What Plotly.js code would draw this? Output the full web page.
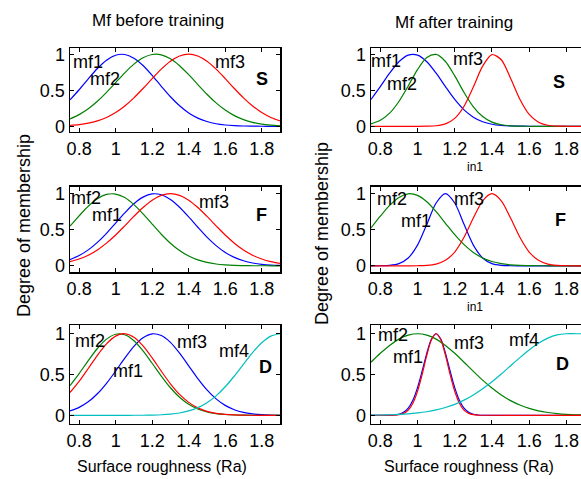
<!DOCTYPE html>
<html>
<head>
<meta charset="utf-8">
<script src="https://cdn.plot.ly/plotly-3.0.1.min.js"></script>
<style>
html,body{margin:0;padding:0;overflow:hidden;background:#fff;}
#chart{width:590px;height:479px;}
</style>
</head>
<body>
<div id="chart"></div>
<script>
// ---------- data ----------
const panelNames = ['S', 'F', 'D'];
const columnTitles = ['Mf before training', 'Mf after training'];
const xTickVals = [0.8, 1, 1.2, 1.4, 1.6, 1.8];
const xTickText = ['0.8', '1', '1.2', '1.4', '1.6', '1.8'];
const yTickVals = [0, 0.5, 1];
const yTickText = ['0', '0.5', '1'];

const xGrid = [0.75,0.80,0.85,0.90,0.95,1.00,1.05,1.10,1.15,1.20,1.25,1.30,1.35,1.40,1.45,1.50,1.55,1.60,1.65,1.70,1.75,1.80,1.85,1.90];
const xFine = [0.75,0.85,0.875,0.9,0.925,0.95,0.975,1.0,1.025,1.05,1.075,1.1,1.125,1.15,1.175,1.2,1.225,1.25,1.275,1.3,1.325,1.35,1.9];

// S, before training
const S_before_mf1 = [0.367,0.507,0.658,0.802,0.917,0.986,0.996,0.945,0.843,0.706,0.555,0.410,0.285,0.186,0.114,0.066,0.035,0.018,0.009,0.004,0.002,0.001,0,0];
const S_before_mf2 = [0.102,0.162,0.243,0.347,0.471,0.607,0.742,0.862,0.951,0.996,0.991,0.936,0.840,0.716,0.579,0.445,0.325,0.225,0.148,0.093,0.055,0.031,0.017,0.008];
const S_before_mf3 = [0.013,0.024,0.044,0.076,0.123,0.191,0.282,0.395,0.524,0.662,0.793,0.902,0.975,1,0.975,0.902,0.793,0.662,0.524,0.395,0.282,0.191,0.123,0.076];
// S, after training
const S_after_mf1 = [0.372,0.550,0.737,0.896,0.988,0.988,0.896,0.737,0.550,0.372,0.228,0.127,0.064,0.029,0.012,0.005,0.002,0.001,0,0,0,0,0,0];
const S_after_mf2 = [0.033,0.083,0.182,0.344,0.560,0.787,0.954,0.997,0.899,0.699,0.469,0.271,0.135,0.058,0.022,0.007,0.002,0.001,0,0,0,0,0,0];
const S_after_mf3 = [0,0,0,0,0,0,0.002,0.008,0.034,0.110,0.278,0.546,0.835,0.995,0.923,0.667,0.375,0.164,0.056,0.015,0.003,0.001,0,0];
// F, before training
const F_before_mf1 = [0.086,0.142,0.221,0.325,0.451,0.592,0.734,0.861,0.953,0.997,0.986,0.921,0.813,0.678,0.535,0.398,0.280,0.186,0.117,0.070,0.039,0.021,0.010,0.005];
const F_before_mf2 = [0.549,0.693,0.826,0.930,0.990,0.995,0.946,0.849,0.721,0.578,0.438,0.313,0.212,0.135,0.082,0.047,0.025,0.013,0.006,0.003,0.001,0.001,0,0];
const F_before_mf3 = [0.057,0.094,0.147,0.220,0.314,0.427,0.554,0.685,0.808,0.910,0.977,1,0.977,0.910,0.808,0.685,0.554,0.427,0.314,0.220,0.147,0.094,0.057,0.033];
// F, after training
const F_after_mf1 = [0,0.001,0.007,0.031,0.109,0.287,0.575,0.871,1,0.871,0.575,0.287,0.109,0.031,0.007,0.001,0,0,0,0,0,0,0,0];
const F_after_mf2 = [0.525,0.688,0.838,0.949,0.999,0.977,0.888,0.751,0.590,0.431,0.293,0.185,0.108,0.059,0.030,0.014,0.006,0.003,0.001,0,0,0,0,0];
const F_after_mf3 = [0,0,0,0,0,0.001,0.006,0.024,0.076,0.191,0.395,0.662,0.902,1,0.902,0.662,0.395,0.191,0.076,0.024,0.006,0.001,0,0];
// D, before training
const D_before_mf1 = [0.053,0.098,0.166,0.264,0.392,0.543,0.701,0.846,0.951,0.999,0.978,0.894,0.762,0.607,0.450,0.312,0.202,0.122,0.069,0.036,0.018,0.008,0.003,0.001];
const D_before_mf2 = [0.364,0.512,0.670,0.819,0.934,0.994,0.988,0.915,0.791,0.638,0.481,0.338,0.221,0.135,0.077,0.041,0.020,0.010,0.004,0.002,0.001,0,0,0];
const D_before_mf3 = [0.280,0.416,0.574,0.736,0.876,0.971,1.0,0.957,0.851,0.704,0.541,0.387,0.257,0.159,0.091,0.049,0.024,0.011,0.005,0.002,0.001,0,0,0];
const D_before_mf4 = [0,0,0,0,0,0,0,0.001,0.001,0.003,0.007,0.015,0.029,0.054,0.094,0.155,0.239,0.350,0.482,0.627,0.769,0.890,0.971,1];
// D, after training
const D_after_mf1 = [0,0.001,0.004,0.013,0.037,0.088,0.185,0.339,0.544,0.763,0.935,1,0.935,0.763,0.544,0.339,0.185,0.088,0.037,0.013,0.004,0.001,0];
const D_after_mf2 = [0.651,0.760,0.857,0.934,0.983,1,0.983,0.934,0.857,0.760,0.651,0.539,0.432,0.334,0.249,0.180,0.126,0.085,0.055,0.035,0.021,0.012,0.007,0.004];
const D_after_mf3 = [0,0.001,0.002,0.008,0.024,0.064,0.149,0.295,0.503,0.737,0.927,1,0.927,0.737,0.503,0.295,0.149,0.064,0.024,0.008,0.002,0.001,0];
const D_after_mf4 = [0.002,0.004,0.007,0.011,0.018,0.029,0.044,0.066,0.096,0.135,0.186,0.249,0.325,0.411,0.506,0.607,0.707,0.801,0.882,0.946,0.986,1,1,1];

// label positions (data coords) : [text, x, y]
const labels = [
  [['mf1',0.85,0.89],['mf2',0.94,0.66],['mf3',1.626,0.89]],
  [['mf1',0.83,0.90],['mf2',0.917,0.58],['mf3',1.27,0.93]],
  [['mf2',0.84,0.94],['mf1',0.95,0.71],['mf3',1.54,0.88]],
  [['mf2',0.863,0.93],['mf1',0.99,0.62],['mf3',1.277,0.93]],
  [['mf2',0.86,0.905],['mf1',1.07,0.54],['mf3',1.42,0.90],['mf4',1.65,0.79]],
  [['mf2',0.866,0.99],['mf1',0.95,0.71],['mf3',1.274,0.89],['mf4',1.57,0.92]]
];
const panelTag = [[1.80,0.65],[1.76,0.62],[1.80,0.70],[1.77,0.64],[1.82,0.59],[1.78,0.63]];

// ---------- styling ----------
const FONT = 'Liberation Sans, Arial, Helvetica, sans-serif';
const BLUE = 'rgb(0,0,255)', GREEN = 'rgb(0,128,0)', RED = 'rgb(255,0,0)', CYAN = 'rgb(0,191,191)';
const W = 590, H = 479;

function tr(x, y, color, k) {
  const s = k === 1 ? '' : String(k);
  return {x: x, y: y, type: 'scatter', mode: 'lines', xaxis: 'x' + s, yaxis: 'y' + s,
          line: {color: color, width: 1.2, shape: 'spline', smoothing: 0.8},
          hoverinfo: 'skip', showlegend: false};
}

const data = [
  tr(xGrid, S_before_mf1, BLUE, 1), tr(xGrid, S_before_mf2, GREEN, 1), tr(xGrid, S_before_mf3, RED, 1),
  tr(xGrid, S_after_mf1, BLUE, 2), tr(xGrid, S_after_mf2, GREEN, 2), tr(xGrid, S_after_mf3, RED, 2),
  tr(xGrid, F_before_mf1, BLUE, 3), tr(xGrid, F_before_mf2, GREEN, 3), tr(xGrid, F_before_mf3, RED, 3),
  tr(xGrid, F_after_mf1, BLUE, 4), tr(xGrid, F_after_mf2, GREEN, 4), tr(xGrid, F_after_mf3, RED, 4),
  tr(xGrid, D_before_mf1, BLUE, 5), tr(xGrid, D_before_mf2, GREEN, 5), tr(xGrid, D_before_mf3, RED, 5), tr(xGrid, D_before_mf4, CYAN, 5),
  tr(xFine, D_after_mf1, BLUE, 6), tr(xGrid, D_after_mf2, GREEN, 6), tr(xFine, D_after_mf3, RED, 6), tr(xGrid, D_after_mf4, CYAN, 6)
];

// pixel geometry
const colX = [[70, 280], [371, 585]];
const rowY = [[48, 131.5], [186.5, 272], [325, 423.5]];
const rowRange = [[-0.072, 1.086], [-0.086, 1.10], [-0.10, 1.107]];

const layout = {
  width: W, height: H,
  margin: {l: 0, r: 0, t: 0, b: 0},
  paper_bgcolor: '#fff', plot_bgcolor: '#fff',
  font: {family: FONT, size: 18, color: '#000'},
  showlegend: false,
  annotations: []
};

for (let k = 1; k <= 6; k++) {
  const col = (k - 1) % 2, row = Math.floor((k - 1) / 2);
  const s = k === 1 ? '' : String(k);
  layout['xaxis' + s] = {
    domain: [colX[col][0] / W, colX[col][1] / W], anchor: 'y' + s,
    range: [0.75, 1.9], tickmode: 'array', tickvals: xTickVals, ticktext: xTickText,
    ticks: 'inside', ticklen: 4, tickcolor: '#000', mirror: 'allticks', showline: true,
    linecolor: '#000', linewidth: 1.5, showgrid: false, zeroline: false,
    tickfont: {family: FONT, size: 18, color: '#000'}, fixedrange: true
  };
  layout['yaxis' + s] = {
    domain: [1 - rowY[row][1] / H, 1 - rowY[row][0] / H], anchor: 'x' + s,
    range: rowRange[row], tickmode: 'array', tickvals: yTickVals, ticktext: yTickText,
    ticks: 'inside', ticklen: 4, tickcolor: '#000', mirror: 'allticks', showline: true,
    linecolor: '#000', linewidth: 1.5, showgrid: false, zeroline: false,
    tickfont: {family: FONT, size: 18, color: '#000'}, fixedrange: true
  };
  labels[k - 1].forEach(function (L) {
    layout.annotations.push({text: L[0], x: L[1], y: L[2], xref: 'x' + s, yref: 'y' + s,
      showarrow: false, font: {family: FONT, size: 18, color: '#000'}});
  });
  layout.annotations.push({text: '<b>' + panelNames[row] + '</b>', x: panelTag[k - 1][0], y: panelTag[k - 1][1],
    xref: 'x' + s, yref: 'y' + s, showarrow: false, font: {family: FONT, size: 18, color: '#000'}});
}

function paperAnn(text, px, py, size, angle) {
  layout.annotations.push({text: text, x: px / W, y: 1 - py / H, xref: 'paper', yref: 'paper',
    xanchor: 'center', yanchor: 'middle', showarrow: false, textangle: angle || 0,
    font: {family: FONT, size: size, color: '#000'}});
}
paperAnn(columnTitles[0], 158, 21, 17);
paperAnn(columnTitles[1], 454, 23, 17);
paperAnn('Degree of membership', 24, 226, 18, -90);
paperAnn('Degree of membership', 322, 233, 18, -90);
paperAnn('Surface roughness (Ra)', 162, 466, 16);
paperAnn('Surface roughness (Ra)', 469, 466, 16);
paperAnn('in1', 475, 167, 12);
paperAnn('in1', 475, 307, 12);

Plotly.newPlot('chart', data, layout, {staticPlot: true, displayModeBar: false});
</script>
</body>
</html>
